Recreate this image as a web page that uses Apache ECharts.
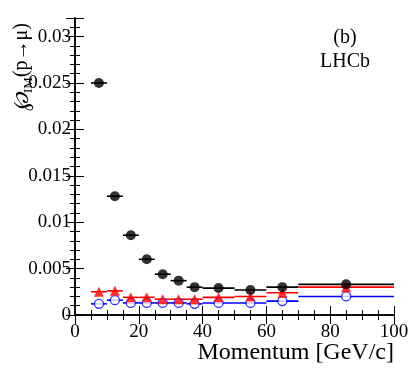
<!DOCTYPE html>
<html>
<head>
<meta charset="utf-8">
<script src="https://cdn.jsdelivr.net/npm/echarts@6/dist/echarts.min.js"></script>
<style>
  html, body { margin: 0; padding: 0; background: #fff; }
  #chart { width: 415px; height: 374px; }
</style>
</head>
<body>
<div id="chart"></div>
<script>
// bins in momentum (GeV/c)
var xCenters = [7.5, 12.5, 17.5, 22.5, 27.5, 32.5, 37.5, 45, 55, 65, 85];
var xLow = [5, 10, 15, 20, 25, 30, 35, 40, 50, 60, 70];
var xHigh = [10, 15, 20, 25, 30, 35, 40, 50, 60, 70, 100];

// misID rates
var blackVals = [0.0250, 0.0128, 0.0086, 0.0060, 0.0044, 0.0037, 0.0030, 0.0029, 0.0027, 0.0030, 0.0033];
var redVals = [0.0025, 0.0026, 0.0019, 0.0019, 0.0017, 0.0017, 0.0017, 0.0019, 0.0020, 0.0024, 0.0030];
var blueVals = [0.0012, 0.0016, 0.0013, 0.0013, 0.0013, 0.0013, 0.0012, 0.0013, 0.0013, 0.0015, 0.0020];

var FONT = '"Liberation Serif", "DejaVu Serif", serif';

var myChart = echarts.init(document.getElementById('chart'));

function hbars(color, vals) {
  return {
    type: 'custom',
    silent: true,
    renderItem: function (params, api) {
      var p1 = api.coord([api.value(0), api.value(2)]);
      var p2 = api.coord([api.value(1), api.value(2)]);
      return {
        type: 'line',
        shape: { x1: p1[0], y1: p1[1], x2: p2[0], y2: p2[1] },
        style: { stroke: color, lineWidth: 1.6 }
      };
    },
    encode: { x: [0, 1], y: 2 },
    data: xLow.map(function (l, i) { return [l, xHigh[i], vals[i]]; }),
    z: 2
  };
}

function points(vals, opts) {
  return Object.assign({
    type: 'scatter',
    silent: true,
    data: xCenters.map(function (x, i) { return [x, vals[i]]; }),
    z: 3
  }, opts);
}

var axisLine = { show: true, lineStyle: { color: '#000', width: 1.5 } };
// ticks drawn into the plot area, on all four sides
var tick = { show: true, inside: true, length: 9, lineStyle: { color: '#000', width: 1 } };
function minor(n) {
  return { show: true, splitNumber: n, length: 5, lineStyle: { color: '#000', width: 1 } };
}

myChart.setOption({
  animation: false,
  grid: { left: 75, right: 21, top: 18, bottom: 59 },
  xAxis: [{
    type: 'value', min: 0, max: 100, interval: 20,
    axisLine: axisLine, axisTick: tick, minorTick: minor(4),
    splitLine: { show: false },
    axisLabel: { color: '#000', fontFamily: FONT, fontSize: 19, margin: 8 }
  }, {
    type: 'value', min: 0, max: 100, interval: 20, position: 'top',
    axisLine: axisLine, axisTick: tick, minorTick: minor(4),
    splitLine: { show: false },
    axisLabel: { show: false }
  }],
  yAxis: [{
    type: 'value', min: 0, max: 0.032, interval: 0.005,
    axisLine: axisLine, axisTick: tick, minorTick: minor(5),
    splitLine: { show: false },
    axisLabel: {
      color: '#000', fontFamily: FONT, fontSize: 19, margin: 4,
      formatter: function (v) { return String(+v.toFixed(3)); }
    }
  }, {
    type: 'value', min: 0, max: 0.032, interval: 0.005, position: 'right',
    axisLine: axisLine, axisTick: tick, minorTick: minor(5),
    splitLine: { show: false },
    axisLabel: { show: false }
  }],
  graphic: [{
    type: 'text', x: 394, y: 353,
    style: { text: 'Momentum [GeV/c]', font: '24px ' + FONT, fill: '#000', align: 'right', verticalAlign: 'middle' }
  }, {
    type: 'text', x: 345, y: 38,
    style: { text: '(b)', font: '20px ' + FONT, fill: '#000', align: 'center', verticalAlign: 'middle' }
  }, {
    type: 'text', x: 345, y: 62,
    style: { text: 'LHCb', font: '20px ' + FONT, fill: '#000', align: 'center', verticalAlign: 'middle' }
  }, {
    type: 'text', x: 22, y: 67, rotation: Math.PI / 2,
    style: {
      text: '{s|℘}{sub|IM}{n|(p→μ)}',
      align: 'center', verticalAlign: 'middle',
      rich: {
        s: { font: 'italic 22px ' + FONT, fill: '#000', lineHeight: 26, verticalAlign: 'middle' },
        sub: { font: '13px ' + FONT, fill: '#000', lineHeight: 26, verticalAlign: 'bottom', padding: [8, 0, 0, 0] },
        n: { font: '20px ' + FONT, fill: '#000', lineHeight: 26, verticalAlign: 'middle' }
      }
    }
  }],
  series: [
    hbars('#0000ff', blueVals),
    hbars('#ff0000', redVals),
    hbars('#000000', blackVals),
    points(blueVals, { symbol: 'circle', symbolSize: 9, itemStyle: { color: '#fff', borderColor: '#0000ff', borderWidth: 1.3 } }),
    points(redVals, { symbol: 'triangle', symbolSize: 10, itemStyle: { color: '#ff0000' } }),
    points(blackVals, { symbol: 'circle', symbolSize: 10, itemStyle: { color: '#000' } })
  ]
});
</script>
</body>
</html>
